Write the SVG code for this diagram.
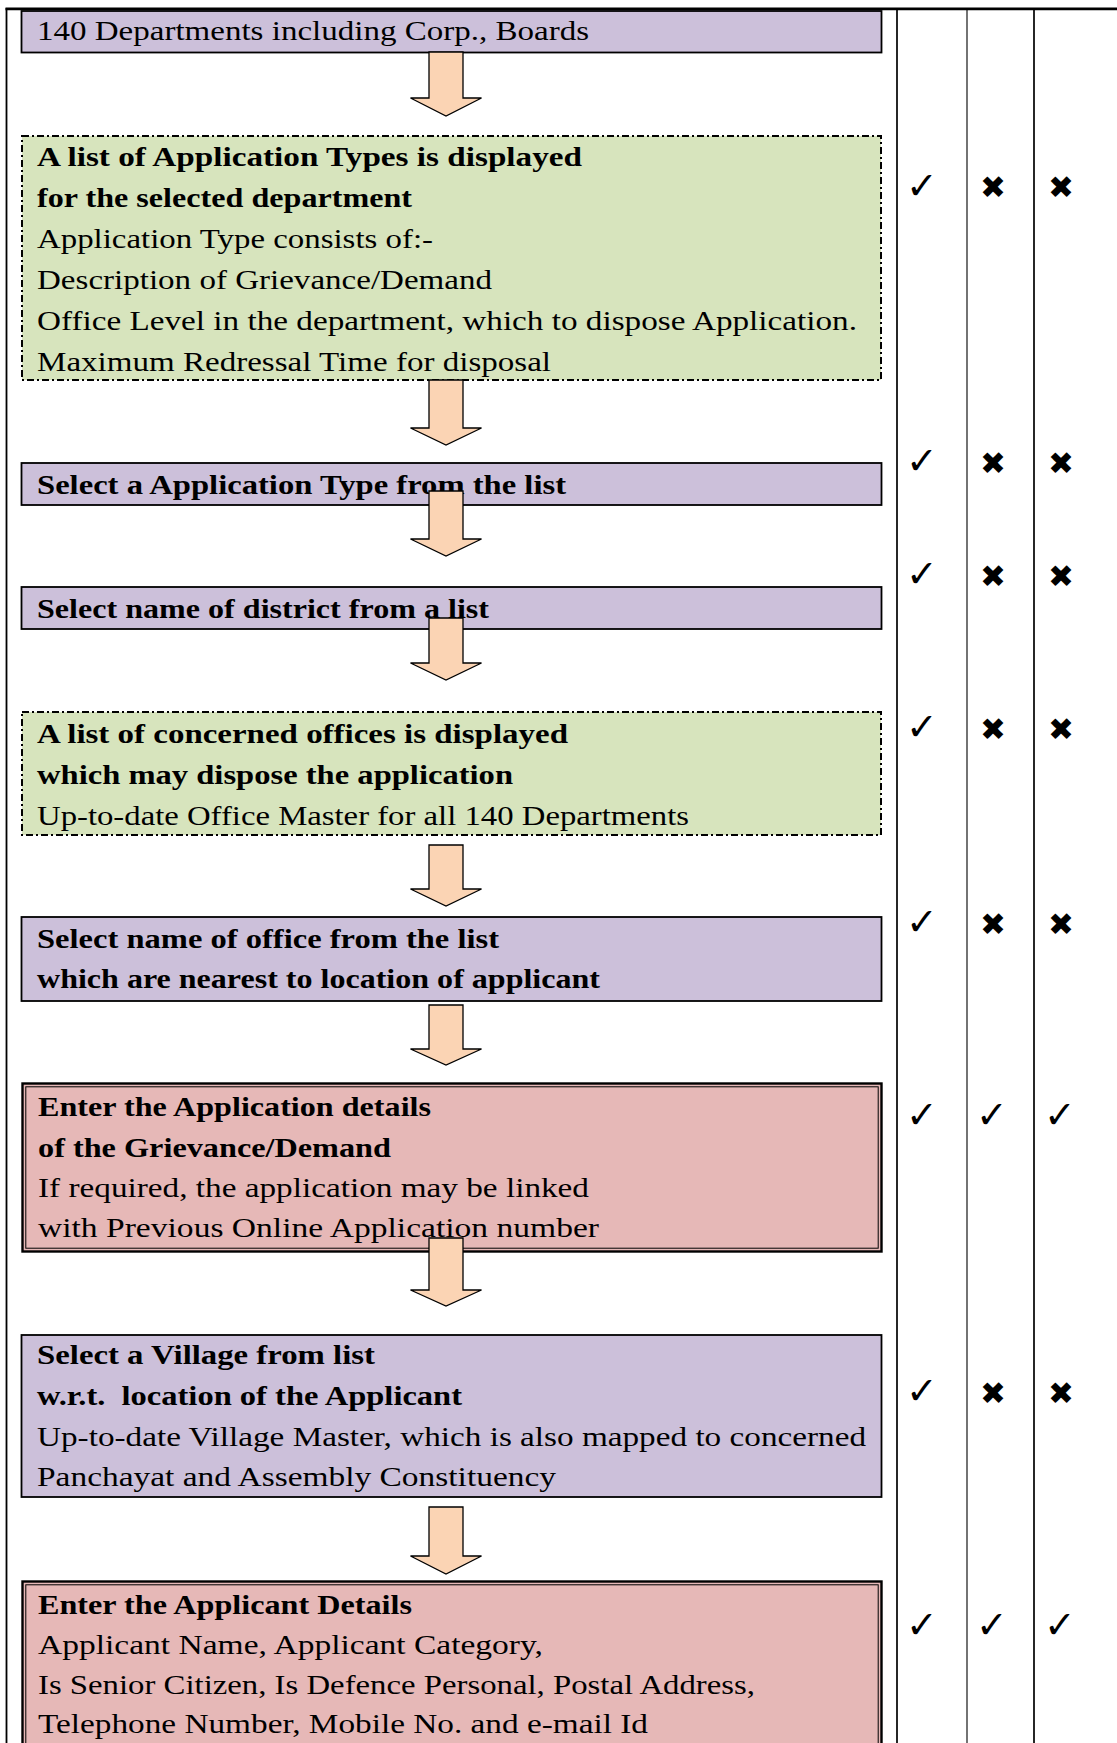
<svg xmlns="http://www.w3.org/2000/svg" width="1117" height="1743" viewBox="0 0 1117 1743">
<defs>
<style>
.bg{fill:#ffffff}
.tl{stroke:#000;fill:none}
.pur{fill:#CCC0DA;stroke:#000;stroke-width:1.8}
.grn{fill:#D7E4BD;stroke:#000;stroke-width:2;stroke-dasharray:7 3 2 3}
.pnk{fill:#E6B8B7;stroke:#000;stroke-width:2.4}
.pnki{fill:none;stroke:#000;stroke-width:1}
.t{font-family:"Liberation Serif","Times New Roman",serif;font-size:28px;fill:#000}
.b{font-weight:bold}
.pre{white-space:pre}
.arr{fill:#FBD4B4;stroke:#000;stroke-width:1.3;stroke-linejoin:miter}
.sym{font-family:"DejaVu Sans",sans-serif;fill:#000;text-anchor:middle;dominant-baseline:central}
.ck{font-size:38px;font-weight:bold}
.xx{font-size:31px;font-weight:bold}
</style>
</defs>
<rect class="bg" x="0" y="0" width="1117" height="1743"/>
<g id="table">
<line class="tl" x1="5.5" y1="8.8" x2="1117" y2="8.8" stroke-width="2.8"/>
<line class="tl" x1="6.5" y1="8" x2="6.5" y2="1743" stroke-width="1.8"/>
<line class="tl" x1="897" y1="8" x2="897" y2="1743" stroke-width="1.7"/>
<line class="tl" x1="967" y1="8" x2="967" y2="1743" stroke-width="1.1"/>
<line class="tl" x1="1034" y1="8" x2="1034" y2="1743" stroke-width="1.7"/>
</g>
<g id="n1">
<rect class="pur" x="21.5" y="11" width="860" height="41.5"/>
<text class="t" x="37" y="40" textLength="552" lengthAdjust="spacingAndGlyphs">140 Departments including Corp., Boards</text>
</g>
<g id="n2">
<rect class="grn" x="22" y="136" width="859" height="244"/>
<text class="t b" x="37" y="166" textLength="545" lengthAdjust="spacingAndGlyphs">A list of Application Types is displayed</text>
<text class="t b" x="37" y="207" textLength="375" lengthAdjust="spacingAndGlyphs">for the selected department</text>
<text class="t" x="37" y="248" textLength="396" lengthAdjust="spacingAndGlyphs">Application Type consists of:-</text>
<text class="t" x="37" y="289" textLength="455" lengthAdjust="spacingAndGlyphs">Description of Grievance/Demand</text>
<text class="t" x="37" y="330" textLength="820" lengthAdjust="spacingAndGlyphs">Office Level in the department, which to dispose Application.</text>
<text class="t" x="37" y="371" textLength="514" lengthAdjust="spacingAndGlyphs">Maximum Redressal Time for disposal</text>
</g>
<g id="n3">
<rect class="pur" x="21.5" y="463" width="860" height="42"/>
<text class="t b" x="37" y="494" textLength="529" lengthAdjust="spacingAndGlyphs">Select a Application Type from the list</text>
</g>
<g id="n4">
<rect class="pur" x="21.5" y="587" width="860" height="42"/>
<text class="t b" x="37" y="618" textLength="452" lengthAdjust="spacingAndGlyphs">Select name of district from a list</text>
</g>
<g id="n5">
<rect class="grn" x="22" y="712" width="859" height="123"/>
<text class="t b" x="37" y="743" textLength="531" lengthAdjust="spacingAndGlyphs">A list of concerned offices is displayed</text>
<text class="t b" x="37" y="784" textLength="476" lengthAdjust="spacingAndGlyphs">which may dispose the application</text>
<text class="t" x="37" y="825" textLength="652" lengthAdjust="spacingAndGlyphs">Up-to-date Office Master for all 140 Departments</text>
</g>
<g id="n6">
<rect class="pur" x="21.5" y="917" width="860" height="84"/>
<text class="t b" x="37" y="948" textLength="462" lengthAdjust="spacingAndGlyphs">Select name of office from the list</text>
<text class="t b" x="37" y="988" textLength="563" lengthAdjust="spacingAndGlyphs">which are nearest to location of applicant</text>
</g>
<g id="n7">
<rect class="pnk" x="22.5" y="1083.5" width="859" height="168"/>
<rect class="pnki" x="25.8" y="1086.8" width="852.4" height="161.4"/>
<text class="t b" x="38" y="1116" textLength="393" lengthAdjust="spacingAndGlyphs">Enter the Application details</text>
<text class="t b" x="38" y="1157" textLength="353" lengthAdjust="spacingAndGlyphs">of the Grievance/Demand</text>
<text class="t" x="38" y="1197" textLength="551" lengthAdjust="spacingAndGlyphs">If required, the application may be linked</text>
<text class="t" x="38" y="1237" textLength="561" lengthAdjust="spacingAndGlyphs">with Previous Online Application number</text>
</g>
<g id="n8">
<rect class="pur" x="21.5" y="1335" width="860" height="162"/>
<text class="t b" x="37" y="1364" textLength="338" lengthAdjust="spacingAndGlyphs">Select a Village from list</text>
<text class="t b pre" x="37" y="1405" textLength="425" lengthAdjust="spacingAndGlyphs">w.r.t.  location of the Applicant</text>
<text class="t" x="37" y="1446" textLength="829" lengthAdjust="spacingAndGlyphs">Up-to-date Village Master, which is also mapped to concerned</text>
<text class="t" x="37" y="1486" textLength="519" lengthAdjust="spacingAndGlyphs">Panchayat and Assembly Constituency</text>
</g>
<g id="n9">
<rect class="pnk" x="22.5" y="1581.5" width="859" height="200"/>
<rect class="pnki" x="25.8" y="1584.8" width="852.4" height="200"/>
<text class="t b" x="38" y="1614" textLength="374" lengthAdjust="spacingAndGlyphs">Enter the Applicant Details</text>
<text class="t" x="38" y="1654" textLength="505" lengthAdjust="spacingAndGlyphs">Applicant Name, Applicant Category,</text>
<text class="t" x="38" y="1694" textLength="717" lengthAdjust="spacingAndGlyphs">Is Senior Citizen, Is Defence Personal, Postal Address,</text>
<text class="t" x="38" y="1733" textLength="610" lengthAdjust="spacingAndGlyphs">Telephone Number, Mobile No. and e-mail Id</text>
</g>
<g id="connectors">
<polygon class="arr" points="429,52 463,52 463,98 481.5,98 446,116 410.5,98 429,98"/>
<polygon class="arr" points="429,380 463,380 463,428 481.5,428 446,445 410.5,428 429,428"/>
<polygon class="arr" points="429,491 463,491 463,539 481.5,539 446,556 410.5,539 429,539"/>
<polygon class="arr" points="429,618 463,618 463,663 481.5,663 446,680 410.5,663 429,663"/>
<polygon class="arr" points="429,845 463,845 463,889 481.5,889 446,906 410.5,889 429,889"/>
<polygon class="arr" points="429,1005 463,1005 463,1049 481.5,1049 446,1065 410.5,1049 429,1049"/>
<polygon class="arr" points="429,1238 463,1238 463,1290 481.5,1290 446,1306 410.5,1290 429,1290"/>
<polygon class="arr" points="429,1507 463,1507 463,1556 481.5,1556 446,1574 410.5,1556 429,1556"/>
</g>
<g id="marks">
<text class="sym ck" x="922" y="186">✓</text><text class="sym xx" x="993" y="187">✖</text><text class="sym xx" x="1061" y="187">✖</text>
<text class="sym ck" x="922" y="461">✓</text><text class="sym xx" x="993" y="463">✖</text><text class="sym xx" x="1061" y="463">✖</text>
<text class="sym ck" x="922" y="574">✓</text><text class="sym xx" x="993" y="576">✖</text><text class="sym xx" x="1061" y="576">✖</text>
<text class="sym ck" x="922" y="727">✓</text><text class="sym xx" x="993" y="729">✖</text><text class="sym xx" x="1061" y="729">✖</text>
<text class="sym ck" x="922" y="922">✓</text><text class="sym xx" x="993" y="924">✖</text><text class="sym xx" x="1061" y="924">✖</text>
<text class="sym ck" x="922" y="1115">✓</text><text class="sym ck" x="992" y="1115">✓</text><text class="sym ck" x="1060" y="1115">✓</text>
<text class="sym ck" x="922" y="1391">✓</text><text class="sym xx" x="993" y="1393">✖</text><text class="sym xx" x="1061" y="1393">✖</text>
<text class="sym ck" x="922" y="1625">✓</text><text class="sym ck" x="992" y="1625">✓</text><text class="sym ck" x="1060" y="1625">✓</text>
</g>
</svg>
